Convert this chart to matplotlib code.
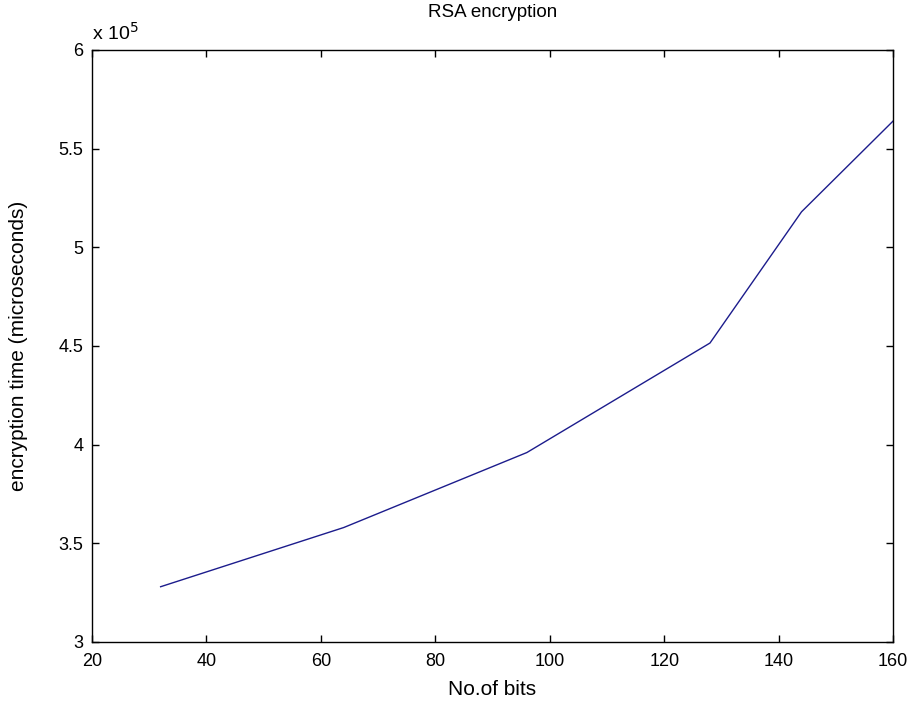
import matplotlib
matplotlib.use("Agg")
import matplotlib.pyplot as plt
from matplotlib.ticker import FuncFormatter

# key sizes (bits) and measured encryption time (microseconds)
bits = [32, 64, 96, 128, 144, 160]
enc_time = [328000, 358000, 396000, 451500, 518000, 564000]

plt.rcParams['font.family'] = ['Liberation Sans', 'DejaVu Sans']

fig = plt.figure(figsize=(9.16, 7.04), dpi=100)
ax = fig.add_axes([0.1004, 0.0881, 0.8746, 0.8409])

ax.plot(bits, enc_time, color='#1c1c8c', linewidth=1.0)

ax.set_xlim(20, 160)
ax.set_ylim(300000, 600000)
ax.set_xticks(range(20, 161, 20))
ax.set_yticks([300000 + 50000 * i for i in range(7)])
ax.yaxis.set_major_formatter(FuncFormatter(lambda v, p: f"{v / 1e5:g}"))

ax.tick_params(direction='in', top=True, right=True, length=5, width=1,
               labelsize=13)
ax.tick_params(axis='x', pad=8)
ax.tick_params(axis='y', pad=6)
for s in ax.spines.values():
    s.set_linewidth(1.0)

ax.set_title('RSA encryption', fontsize=13.5, pad=24)
ax.set_xlabel('No.of bits', fontsize=15, labelpad=7)
ax.set_ylabel('encryption time (microseconds)', fontsize=15, labelpad=22)
ax.text(0.0, 1.01, r'x 10$^5$', transform=ax.transAxes, fontsize=14,
        ha='left', va='bottom')

fig.savefig('out.png', dpi=100)
